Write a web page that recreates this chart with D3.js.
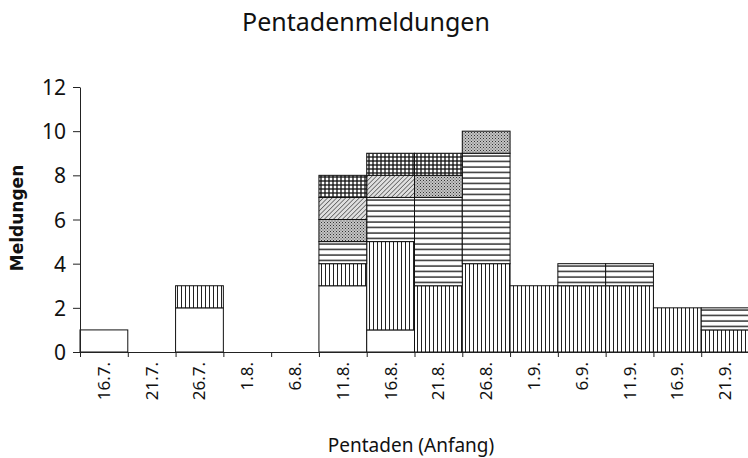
<!DOCTYPE html>
<html>
<head>
<meta charset="utf-8">
<script src="https://cdn.jsdelivr.net/npm/d3@7"></script>
<style>
  body { margin: 0; background: #fff; }
  svg { display: block; }
  text { font-family: "Noto Sans", sans-serif; fill: #111; }
  .axis path, .axis line { stroke: #222; stroke-width: 1; }
  .bar { stroke: #111; stroke-width: 1; }
</style>
</head>
<body>
<div id="chart"></div>
<script>
// Pentaden (start day of each 5-day period)
const categories = ['16.7.', '21.7.', '26.7.', '1.8.', '6.8.', '11.8.', '16.8.', '21.8.', '26.8.', '1.9.', '6.9.', '11.9.', '16.9.', '21.9.'];

// stacked series, bottom to top (named after their fill pattern)
const blank      = [1, 0, 2, 0, 0, 3, 1, 0, 0, 0, 0, 0, 0, 0];
const vertical   = [0, 0, 1, 0, 0, 1, 4, 3, 4, 3, 3, 3, 2, 1];
const horizontal = [0, 0, 0, 0, 0, 1, 2, 4, 5, 0, 1, 1, 0, 1];
const dotted     = [0, 0, 0, 0, 0, 1, 0, 1, 1, 0, 0, 0, 0, 0];
const diagonal   = [0, 0, 0, 0, 0, 1, 1, 0, 0, 0, 0, 0, 0, 0];
const grid       = [0, 0, 0, 0, 0, 1, 1, 1, 0, 0, 0, 0, 0, 0];

const yTicks = [0, 2, 4, 6, 8, 10, 12];

const seriesKeys = ['blank', 'vertical', 'horizontal', 'dotted', 'diagonal', 'grid'];
const seriesData = { blank, vertical, horizontal, dotted, diagonal, grid };

const W = 748, H = 458;
const margin = { top: 87, right: 0, bottom: 106, left: 80 };

const rows = categories.map(function(c, i) {
    const r = { cat: c };
    seriesKeys.forEach(function(k) { r[k] = seriesData[k][i]; });
    return r;
});

const svg = d3.select('#chart').append('svg')
    .attr('width', W)
    .attr('height', H);

// fill patterns
const defs = svg.append('defs');

let p = defs.append('pattern').attr('id', 'pat-vertical')
    .attr('patternUnits', 'userSpaceOnUse').attr('width', 4).attr('height', 4);
p.append('rect').attr('width', 4).attr('height', 4).attr('fill', '#fff');
p.append('line').attr('x1', 1.5).attr('x2', 1.5).attr('y1', 0).attr('y2', 4)
    .attr('stroke', '#222').attr('stroke-width', 1);

p = defs.append('pattern').attr('id', 'pat-horizontal')
    .attr('patternUnits', 'userSpaceOnUse').attr('width', 4).attr('height', 5.5);
p.append('rect').attr('width', 4).attr('height', 5.5).attr('fill', '#fff');
p.append('line').attr('x1', 0).attr('x2', 4).attr('y1', 2).attr('y2', 2)
    .attr('stroke', '#111').attr('stroke-width', 1.3);

p = defs.append('pattern').attr('id', 'pat-dotted')
    .attr('patternUnits', 'userSpaceOnUse').attr('width', 3).attr('height', 3);
p.append('rect').attr('width', 3).attr('height', 3).attr('fill', '#c4c4c4');
p.append('rect').attr('x', 0).attr('y', 0).attr('width', 1).attr('height', 1).attr('fill', '#333');
p.append('rect').attr('x', 1.5).attr('y', 1.5).attr('width', 1).attr('height', 1).attr('fill', '#555');

p = defs.append('pattern').attr('id', 'pat-diagonal')
    .attr('patternUnits', 'userSpaceOnUse').attr('width', 3.2).attr('height', 3.2)
    .attr('patternTransform', 'rotate(45)');
p.append('rect').attr('width', 3.2).attr('height', 3.2).attr('fill', '#e0e0e0');
p.append('line').attr('x1', 0).attr('x2', 0).attr('y1', 0).attr('y2', 3.2)
    .attr('stroke', '#333').attr('stroke-width', 1.2);

p = defs.append('pattern').attr('id', 'pat-grid')
    .attr('patternUnits', 'userSpaceOnUse').attr('width', 4).attr('height', 4);
p.append('rect').attr('width', 4).attr('height', 4).attr('fill', '#fff');
p.append('line').attr('x1', 0).attr('x2', 4).attr('y1', 1).attr('y2', 1)
    .attr('stroke', '#111').attr('stroke-width', 1.3);
p.append('line').attr('x1', 1).attr('x2', 1).attr('y1', 0).attr('y2', 4)
    .attr('stroke', '#111').attr('stroke-width', 1.3);

const fills = {
    blank: '#fff',
    vertical: 'url(#pat-vertical)',
    horizontal: 'url(#pat-horizontal)',
    dotted: 'url(#pat-dotted)',
    diagonal: 'url(#pat-diagonal)',
    grid: 'url(#pat-grid)'
};

// scales
const x = d3.scaleBand().domain(categories).range([margin.left, 749]).padding(0);
const y = d3.scaleLinear().domain([0, 12]).range([H - margin.bottom, margin.top]);
const xEdges = d3.scaleLinear().domain([0, categories.length]).range([margin.left, 749]);

// bars
const stacked = d3.stack().keys(seriesKeys)(rows);

svg.append('g').selectAll('g')
    .data(stacked).enter()
    .append('g')
    .attr('fill', function(d) { return fills[d.key]; })
    .selectAll('rect')
    .data(function(d) { return d.filter(function(v) { return v[1] > v[0]; }); })
    .enter().append('rect')
    .attr('class', 'bar')
    .attr('x', function(d) { return x(d.data.cat); })
    .attr('width', x.bandwidth())
    .attr('y', function(d) { return y(d[1]); })
    .attr('height', function(d) { return y(d[0]) - y(d[1]); });

// y axis
const yAxis = svg.append('g')
    .attr('class', 'axis')
    .attr('transform', 'translate(' + margin.left + ',0)')
    .call(d3.axisLeft(y).tickValues(yTicks).tickSize(7).tickPadding(7).tickSizeOuter(0));
yAxis.selectAll('text').style('font-size', '21px').attr('dy', '0.36em');

// x axis: ticks at the category boundaries
svg.append('g')
    .attr('class', 'axis')
    .attr('transform', 'translate(0,' + y(0) + ')')
    .call(d3.axisBottom(xEdges).ticks(categories.length).tickSize(5).tickFormat('').tickSizeOuter(0));

// x labels, rotated
svg.append('g').selectAll('text')
    .data(categories).enter()
    .append('text')
    .attr('transform', function(d) {
        return 'translate(' + (x(d) + x.bandwidth() / 2 + 6) + ',' + (y(0) + 10) + ') rotate(-90)';
    })
    .attr('text-anchor', 'end')
    .style('font-size', '17px')
    .text(function(d) { return d; });

// titles
svg.append('text')
    .attr('x', 366).attr('y', 31)
    .attr('text-anchor', 'middle')
    .style('font-size', '25px')
    .text('Pentadenmeldungen');

svg.append('text')
    .attr('x', 411).attr('y', 452)
    .attr('text-anchor', 'middle')
    .style('font-size', '19px')
    .text('Pentaden (Anfang)');

svg.append('text')
    .attr('transform', 'translate(23,218) rotate(-90)')
    .attr('text-anchor', 'middle')
    .style('font-family', '"DejaVu Sans", sans-serif')
    .style('font-weight', 'bold')
    .style('font-size', '17px')
    .text('Meldungen');
</script>
</body>
</html>
